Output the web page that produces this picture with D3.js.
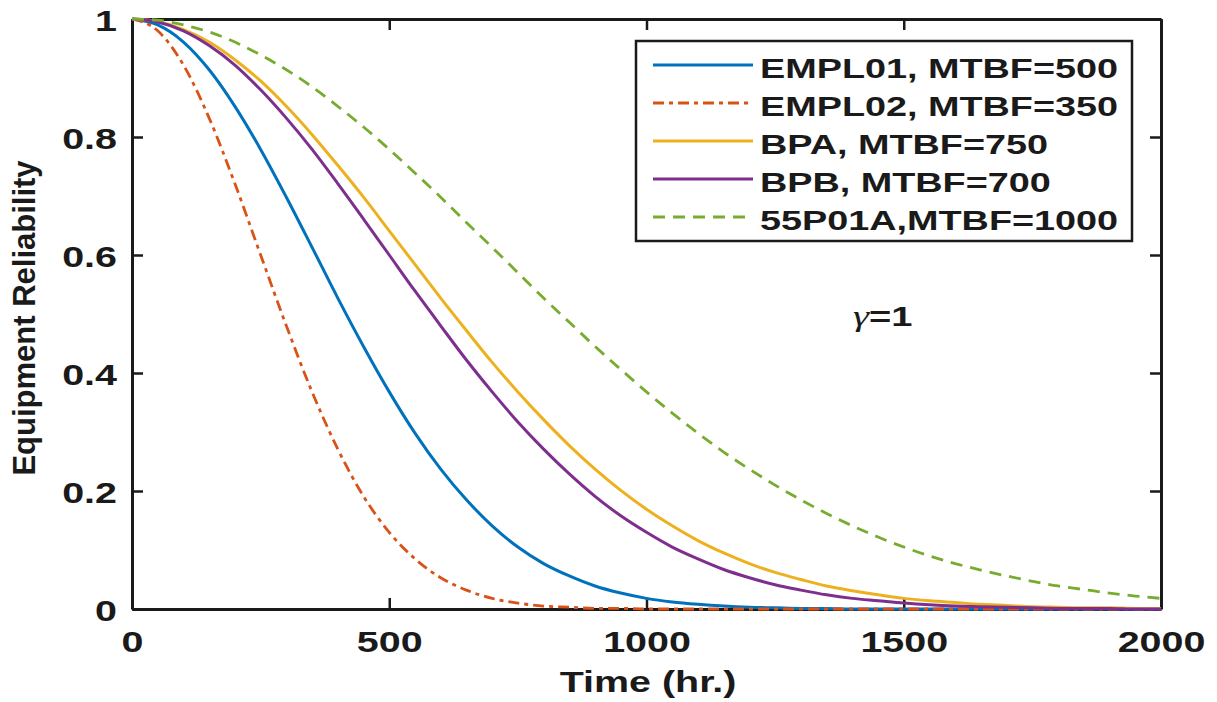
<!DOCTYPE html>
<html>
<head>
<meta charset="utf-8">
<script src="https://cdn.jsdelivr.net/npm/d3@7"></script>
<style>
body { margin: 0; background: #fff; }
svg text { font-family: "Liberation Sans", Arial, sans-serif; font-weight: bold; fill: #1a1a1a; }
</style>
</head>
<body>
<svg id="chart" width="1217" height="702"></svg>
<script>

// time axis samples (hr.)
var hours = [0, 50, 100, 150, 200, 250, 300, 350, 400, 450, 500, 550, 600, 650, 700, 750, 800, 850, 900, 950,
    1000, 1050, 1100, 1150, 1200, 1250, 1300, 1350, 1400, 1450, 1500, 1550, 1600, 1650, 1700, 1750, 1800, 1850, 1900, 1950, 2000];

// reliability
var empl01 = [1, 0.990, 0.961, 0.914, 0.852, 0.779, 0.698, 0.613, 0.527, 0.445, 0.368, 0.298, 0.237, 0.185, 0.141, 0.105, 0.077, 0.056, 0.039, 0.027,
    0.018, 0.012, 0.008, 0.005, 0.003, 0.002, 0.001, 0.001, 0, 0, 0, 0, 0, 0, 0, 0, 0, 0, 0, 0, 0];
var empl02 = [1, 0.980, 0.922, 0.832, 0.721, 0.600, 0.480, 0.368, 0.271, 0.191, 0.130, 0.085, 0.053, 0.032, 0.018, 0.010, 0.005, 0.003, 0.001, 0.001,
    0, 0, 0, 0, 0, 0, 0, 0, 0, 0, 0, 0, 0, 0, 0, 0, 0, 0, 0, 0, 0];
var bpa = [1, 0.996, 0.982, 0.961, 0.931, 0.895, 0.852, 0.804, 0.752, 0.698, 0.641, 0.584, 0.527, 0.472, 0.418, 0.368, 0.321, 0.277, 0.237, 0.201,
    0.169, 0.141, 0.116, 0.095, 0.077, 0.062, 0.050, 0.039, 0.031, 0.024, 0.018, 0.014, 0.011, 0.008, 0.006, 0.004, 0.003, 0.002, 0.002, 0.001, 0.001];
var bpb = [1, 0.995, 0.980, 0.955, 0.922, 0.880, 0.832, 0.779, 0.721, 0.661, 0.600, 0.539, 0.480, 0.422, 0.368, 0.317, 0.271, 0.229, 0.191, 0.158,
    0.130, 0.105, 0.085, 0.067, 0.053, 0.041, 0.032, 0.024, 0.018, 0.014, 0.010, 0.007, 0.005, 0.004, 0.003, 0.002, 0.001, 0.001, 0.001, 0, 0];
var p55p01a = [1, 0.998, 0.990, 0.978, 0.961, 0.939, 0.914, 0.885, 0.852, 0.817, 0.779, 0.739, 0.698, 0.655, 0.613, 0.570, 0.527, 0.486, 0.445, 0.406,
    0.368, 0.332, 0.298, 0.266, 0.237, 0.210, 0.185, 0.162, 0.141, 0.122, 0.105, 0.090, 0.077, 0.066, 0.056, 0.047, 0.039, 0.033, 0.027, 0.022, 0.018];

var seriesNames = ['EMPL01, MTBF=500', 'EMPL02, MTBF=350', 'BPA, MTBF=750', 'BPB, MTBF=700', '55P01A,MTBF=1000'];
var seriesValues = [empl01, empl02, bpa, bpb, p55p01a];
var seriesColors = ['#0072BD', '#D95319', '#EDB120', '#7E2F8E', '#77AC30'];
var seriesDash = [null, '11,5,4,5', null, null, '12,8'];

var xTicks = [0, 500, 1000, 1500, 2000];
var yTicks = [0, 0.2, 0.4, 0.6, 0.8, 1];

var svg = d3.select('#chart');
var stretch = 1.36;

var x = d3.scaleLinear().domain([0, 2000]).range([132, 1161]);
var y = d3.scaleLinear().domain([0, 1]).range([609, 19]);

function styleAxis(g) {
    g.select('.domain').attr('stroke', '#1a1a1a').attr('stroke-width', 3);
    g.selectAll('.tick line').attr('stroke', '#1a1a1a').attr('stroke-width', 2.5);
}

// bottom axis with labels
var xAxisBottom = svg.append('g')
    .attr('transform', 'translate(0,609)')
    .call(d3.axisBottom(x).tickValues(xTicks).tickSize(-11).tickSizeOuter(0).tickFormat(d3.format('d')));
styleAxis(xAxisBottom);
xAxisBottom.selectAll('text')
    .attr('y', 43).attr('dy', null)
    .attr('transform', 'scale(' + stretch + ',1)')
    .style('font-size', '29px');

// left axis with labels
var yAxisLeft = svg.append('g')
    .attr('transform', 'translate(132,0)')
    .call(d3.axisLeft(y).tickValues(yTicks).tickSize(-11).tickSizeOuter(0).tickFormat(function(d) { return d3.format('~g')(d); }));
styleAxis(yAxisLeft);
yAxisLeft.selectAll('text')
    .attr('x', -15 / stretch).attr('dy', null).attr('y', 11)
    .attr('transform', 'scale(' + stretch + ',1)')
    .style('font-size', '29px');

// mirrored top / right
var xAxisTop = svg.append('g')
    .attr('transform', 'translate(0,19)')
    .call(d3.axisTop(x).tickValues(xTicks).tickSize(-11).tickSizeOuter(0).tickFormat(''));
styleAxis(xAxisTop);
var yAxisRight = svg.append('g')
    .attr('transform', 'translate(1161,0)')
    .call(d3.axisRight(y).tickValues(yTicks).tickSize(-11).tickSizeOuter(0).tickFormat(''));
styleAxis(yAxisRight);

// axis titles
svg.append('text')
    .attr('transform', 'translate(648,692) scale(' + stretch + ',1)')
    .attr('text-anchor', 'middle')
    .style('font-size', '29px')
    .text('Time (hr.)');

svg.append('text')
    .attr('transform', 'translate(35,318) rotate(-90)')
    .attr('text-anchor', 'middle')
    .style('font-size', '31px')
    .text('Equipment Reliability');

// curves
var line = d3.line()
    .x(function(d, i) { return x(hours[i]); })
    .y(function(d) { return y(d); })
    .curve(d3.curveMonotoneX);

svg.selectAll('.curve')
    .data(seriesValues).enter()
    .append('path')
    .attr('class', 'curve')
    .attr('fill', 'none')
    .attr('stroke', function(d, i) { return seriesColors[i]; })
    .attr('stroke-width', function(d, i) { return seriesDash[i] ? 2.8 : 3; })
    .attr('stroke-dasharray', function(d, i) { return seriesDash[i]; })
    .attr('d', line);

// gamma note
var note = svg.append('text')
    .attr('transform', 'translate(853,326) scale(' + stretch + ',1)')
    .style('font-size', '28px');
note.append('tspan')
    .style('font-family', '"Liberation Serif", "Times New Roman", serif')
    .style('font-style', 'italic')
    .style('font-weight', 'normal')
    .style('font-size', '30px')
    .text('γ');
note.append('tspan').text('=1');

// legend
var legend = svg.append('g');
legend.append('rect')
    .attr('x', 636).attr('y', 41)
    .attr('width', 496).attr('height', 200)
    .attr('fill', '#fff')
    .attr('stroke', '#1a1a1a')
    .attr('stroke-width', 2.5);

var rows = legend.selectAll('.entry')
    .data(seriesNames).enter()
    .append('g')
    .attr('class', 'entry')
    .attr('transform', function(d, i) { return 'translate(0,' + (65 + i * 38) + ')'; });

rows.append('line')
    .attr('x1', 653).attr('x2', 753)
    .attr('stroke', function(d, i) { return seriesColors[i]; })
    .attr('stroke-width', 3)
    .attr('stroke-dasharray', function(d, i) { return seriesDash[i]; });

rows.append('text')
    .attr('transform', 'translate(760,12.5) scale(1.35,1)')
    .style('font-size', '28px')
    .text(function(d) { return d; });

</script>
</body>
</html>
